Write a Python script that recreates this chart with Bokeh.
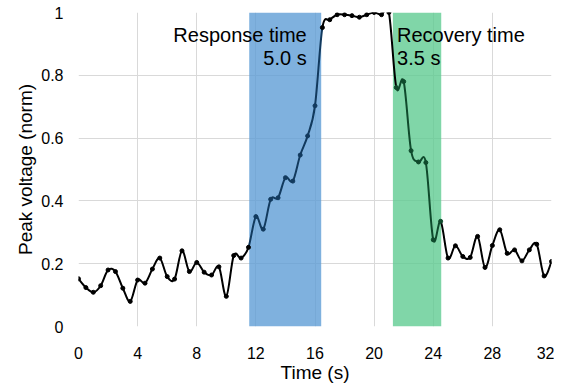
import numpy as np
from bokeh.plotting import figure
from bokeh.models import Range1d, FixedTicker, Label, ColumnDataSource
from bokeh.embed import file_html
from bokeh.resources import INLINE

# ---------------- data ----------------
time_s = [0.0, 0.5, 1.0, 1.5, 2.0, 2.5, 3.0, 3.5, 4.0, 4.5, 5.0, 5.5, 6.0, 6.5,
          7.0, 7.5, 8.0, 8.5, 9.0, 9.5, 10.0, 10.5, 11.0, 11.5, 12.0, 12.5, 13.0,
          13.5, 14.0, 14.5, 15.0, 15.5, 16.0, 16.5, 17.0, 17.5, 18.0, 18.5, 19.0,
          19.5, 20.0, 20.5, 21.0, 21.5, 22.0, 22.5, 23.0, 23.5, 24.0, 24.5, 25.0,
          25.5, 26.0, 26.5, 27.0, 27.5, 28.0, 28.5, 29.0, 29.5, 30.0, 30.5, 31.0,
          31.5, 32.0]
peak_voltage = [0.152, 0.124, 0.109, 0.130, 0.180, 0.175, 0.122, 0.080, 0.148,
                0.138, 0.183, 0.218, 0.159, 0.151, 0.241, 0.175, 0.204, 0.173,
                0.164, 0.190, 0.096, 0.226, 0.218, 0.252, 0.350, 0.310, 0.405,
                0.410, 0.474, 0.463, 0.546, 0.607, 0.703, 0.952, 0.977, 0.993,
                0.993, 0.990, 0.985, 0.993, 1.000, 0.993, 1.000, 0.761, 0.780,
                0.560, 0.524, 0.522, 0.276, 0.335, 0.218, 0.257, 0.223, 0.220,
                0.287, 0.188, 0.258, 0.308, 0.233, 0.244, 0.209, 0.244, 0.262,
                0.161, 0.207]

band_names = ["Response time", "Recovery time"]
band_start = [11.55, 21.27]
band_end = [16.42, 24.54]
band_values = ["5.0 s", "3.5 s"]
band_fill = ["#5B9BD5", "#5CCA8F"]
band_line = ["#123a5e", "#0f4a2c"]

x_ticks = [0, 4, 8, 12, 16, 20, 24, 28, 32]
x_tick_labels = ["0", "4", "8", "12", "16", "20", "24", "28", "32"]
y_ticks = [0, 0.2, 0.4, 0.6, 0.8, 1.0]
y_tick_labels = ["0", "0.2", "0.4", "0.6", "0.8", "1"]

FONT = "Liberation Sans"

# ---------------- smoothed curve (Catmull-Rom -> Bezier) ----------------
x = np.array(time_s, dtype=float)
y = np.array(peak_voltage, dtype=float)
n = len(x)
xp = np.concatenate([[x[0]], x, [x[-1]]])
yp = np.concatenate([[y[0]], y, [y[-1]]])
x0 = x[:-1]; y0 = y[:-1]; x1 = x[1:]; y1 = y[1:]
cx0 = x0 + (xp[2:n + 1] - xp[0:n - 1]) / 6.0
cy0 = y0 + (yp[2:n + 1] - yp[0:n - 1]) / 6.0
cx1 = x1 - (xp[3:n + 2] - xp[1:n]) / 6.0
cy1 = y1 - (yp[3:n + 2] - yp[1:n]) / 6.0


def colour_at(t):
    for s, e, c in zip(band_start, band_end, band_line):
        if s <= t <= e:
            return c
    return "#000000"


seg_col = [colour_at((a + b) / 2) for a, b in zip(x0, x1)]
pt_col = [colour_at(t) for t in x]

seg_src = ColumnDataSource(dict(x0=x0, y0=y0, x1=x1, y1=y1,
                                cx0=cx0, cy0=cy0, cx1=cx1, cy1=cy1, c=seg_col))
pt_src = ColumnDataSource(dict(x=x, y=y, c=pt_col))

# ---------------- figure ----------------
p = figure(frame_width=473, frame_height=314,
           min_border_left=78, min_border_right=3,
           min_border_top=12, min_border_bottom=54,
           x_range=Range1d(0, 32), y_range=Range1d(0, 1),
           output_backend="svg", toolbar_location=None)
p.outline_line_color = None
p.background_fill_color = "white"

p.xaxis.ticker = FixedTicker(ticks=x_ticks)
p.yaxis.ticker = FixedTicker(ticks=y_ticks)
p.xaxis.major_label_overrides = {t: l for t, l in zip(x_ticks, x_tick_labels)}
p.yaxis.major_label_overrides = {t: l for t, l in zip(y_ticks, y_tick_labels)}

for ax in (p.xaxis, p.yaxis):
    ax.axis_line_color = None
    ax.major_tick_line_color = None
    ax.minor_tick_line_color = None
    ax.major_label_text_font = FONT
    ax.major_label_text_font_size = "16px"
    ax.major_label_text_color = "#000000"
    ax.axis_label_text_font = FONT
    ax.axis_label_text_font_size = "19px"
    ax.axis_label_text_font_style = "normal"
    ax.axis_label_text_color = "#000000"

p.xaxis.axis_label = "Time (s)"
p.yaxis.axis_label = "Peak voltage (norm)"
p.xaxis.major_label_standoff = 14
p.xaxis.axis_label_standoff = 0
p.yaxis.major_label_standoff = 9
p.yaxis.axis_label_standoff = 2

p.xgrid.grid_line_color = "#d9d9d9"
p.ygrid.grid_line_color = "#d9d9d9"
p.xgrid.grid_line_width = 1
p.ygrid.grid_line_width = 1

# bands
p.quad(left=band_start, right=band_end, bottom=0, top=1,
       fill_color=band_fill, fill_alpha=0.78, line_color=None)

# curve
p.bezier(x0="x0", y0="y0", x1="x1", y1="y1", cx0="cx0", cy0="cy0",
         cx1="cx1", cy1="cy1", source=seg_src, line_color="c", line_width=2)
p.scatter(x="x", y="y", source=pt_src, size=4, fill_color="c",
          line_color="c", marker="circle")

# annotations
p.add_layout(Label(x=15.44, y=0.927, text=band_names[0], text_align="right",
                   text_baseline="alphabetic", text_font=FONT,
                   text_font_size="20px", text_color="#000000"))
p.add_layout(Label(x=15.44, y=0.855, text=band_values[0], text_align="right",
                   text_baseline="alphabetic", text_font=FONT,
                   text_font_size="20px", text_color="#000000"))
p.add_layout(Label(x=21.55, y=0.927, text=band_names[1], text_align="left",
                   text_baseline="alphabetic", text_font=FONT,
                   text_font_size="20px", text_color="#000000"))
p.add_layout(Label(x=21.55, y=0.855, text=band_values[1], text_align="left",
                   text_baseline="alphabetic", text_font=FONT,
                   text_font_size="20px", text_color="#000000"))

open("out.html", "w").write(file_html(p, INLINE))
